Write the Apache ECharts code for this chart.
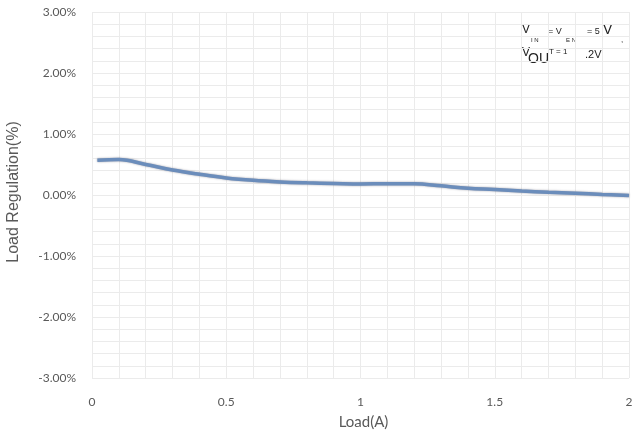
<!DOCTYPE html>
<html>
<head>
<meta charset="utf-8">
<script src="https://cdn.jsdelivr.net/npm/echarts@6/dist/echarts.min.js"></script>
<style>html,body{margin:0;padding:0;background:#fff;}#c{width:634px;height:444px;}</style>
</head>
<body>
<div id="c"></div>
<script>
var loadA = [0.02, 0.1, 0.2, 0.3, 0.4, 0.5, 0.6, 0.7, 0.8, 0.9, 1.0, 1.1, 1.2, 1.3, 1.4, 1.5, 1.6, 1.7, 1.8, 1.9, 2.0];
var regulationPct = [0.57, 0.58, 0.50, 0.41, 0.34, 0.28, 0.24, 0.215, 0.20, 0.19, 0.18, 0.185, 0.185, 0.15, 0.11, 0.09, 0.065, 0.045, 0.03, 0.01, -0.01];
var xTickLabels = ['0', '0.5', '1', '1.5', '2'];
var yTickLabels = ['-3.00%', '-2.00%', '-1.00%', '0.00%', '1.00%', '2.00%', '3.00%'];
var xTitle = 'Load(A)';
var yTitle = 'Load Regulation(%)';

var chart = echarts.init(document.getElementById('c'));
var pts = loadA.map(function (x, i) { return [x, regulationPct[i]]; });

function near(v, list) {
  for (var i = 0; i < list.length; i++) {
    if (Math.abs(v - parseFloat(list[i])) < 1e-6) return list[i];
  }
  return '';
}

var tc = '#222';
var af = 'Liberation Sans';
chart.setOption({
  animation: false,
  grid: { left: 92, right: 5, top: 12, bottom: 66, containLabel: false, outerBoundsMode: 'none' },
  xAxis: {
    type: 'value', min: 0, max: 2, interval: 0.1,
    name: xTitle, nameLocation: 'middle', nameGap: 37,
    nameTextStyle: { color: '#595959', fontSize: 15, fontFamily: 'Lato', padding: [0, 0, 0, 6] },
    axisLine: { show: false }, axisTick: { show: false },
    axisLabel: {
      color: '#595959', fontSize: 12, fontFamily: 'Lato', margin: 18,
      formatter: function (v) { return near(v, xTickLabels); }
    },
    splitLine: { show: true, lineStyle: { color: '#ebebeb', width: 1 } }
  },
  yAxis: {
    type: 'value', min: -3, max: 3, interval: 0.2,
    name: yTitle, nameLocation: 'middle', nameGap: 70,
    nameTextStyle: { color: '#595959', fontSize: 16, fontFamily: 'Liberation Sans', padding: [0, 0, 0, 6] },
    axisLine: { show: false }, axisTick: { show: false },
    axisLabel: {
      color: '#595959', fontSize: 12, fontFamily: 'Lato', margin: 16,
      formatter: function (v) { return near(v, yTickLabels); }
    },
    splitLine: { show: true, lineStyle: { color: '#ebebeb', width: 1 } }
  },
  series: [{
    type: 'line', data: pts, smooth: 0.4, showSymbol: false,
    lineStyle: { color: '#6b8dbb', width: 3.5, shadowColor: 'rgba(60,60,80,0.5)', shadowBlur: 2 }
  }],
  graphic: [
    { type: 'text', left: 522, top: 24, style: { text: 'V', fontSize: 12, fontFamily: af, fill: tc } },
    { type: 'text', left: 548, top: 27, style: { text: '= V', fontSize: 9, fontFamily: af, fill: tc } },
    { type: 'text', left: 587, top: 27, style: { text: '= 5', fontSize: 9, fontFamily: af, fill: tc } },
    { type: 'text', left: 603, top: 23, style: { text: 'V', fontSize: 14, fontFamily: af, fill: tc } },
    { type: 'text', left: 621, top: 36, style: { text: ',', fontSize: 8, fontFamily: af, fill: tc } },
    { type: 'text', left: 531, top: 37, style: { text: 'I N', fontSize: 6, fontFamily: af, fill: tc } },
    { type: 'text', left: 566, top: 37, style: { text: 'E N', fontSize: 6, fontFamily: af, fill: tc } },
    { type: 'text', left: 522, top: 47, style: { text: 'V', fontSize: 12, fontFamily: af, fill: tc } },
    { type: 'text', left: 528, top: 52, style: { text: 'OU', fontSize: 14, fontFamily: af, fill: tc } },
    { type: 'text', left: 549, top: 48, style: { text: 'T = 1', fontSize: 8, fontFamily: af, fill: tc } },
    { type: 'text', left: 585, top: 49, style: { text: '.2V', fontSize: 11, fontFamily: af, fill: tc } }
  ]
});
</script>
</body>
</html>
